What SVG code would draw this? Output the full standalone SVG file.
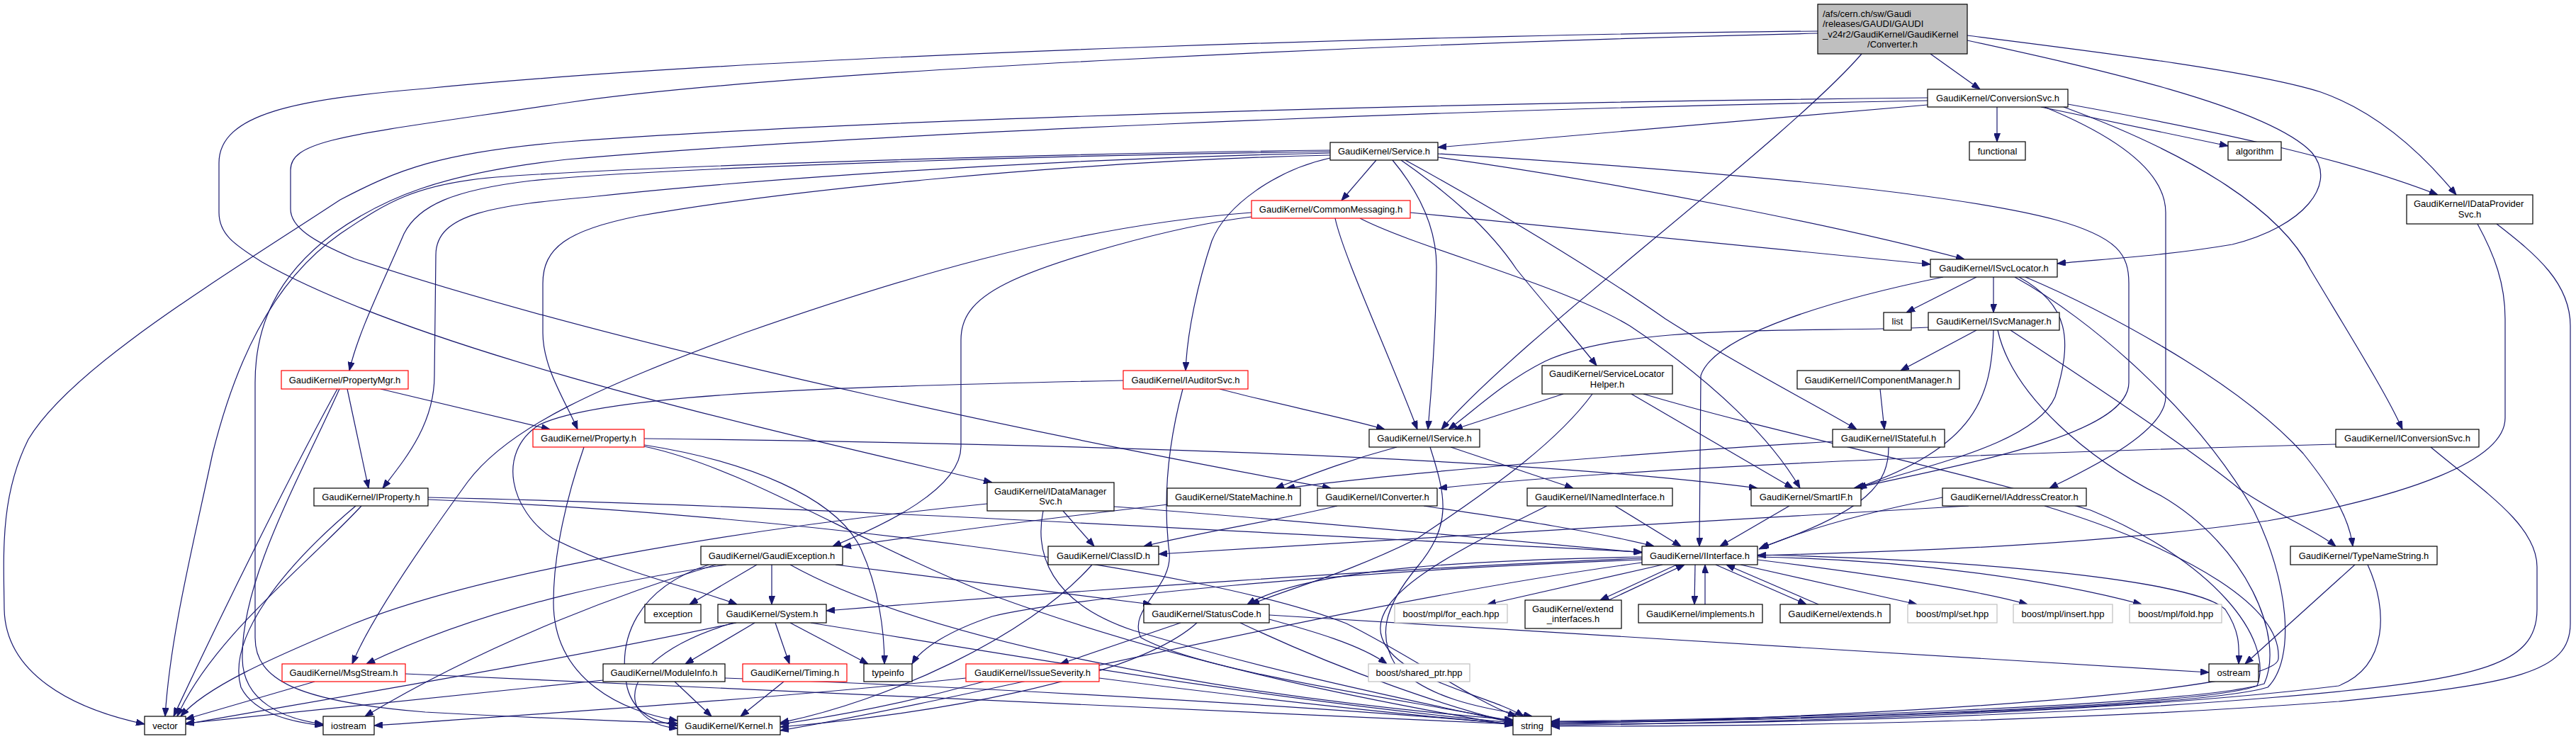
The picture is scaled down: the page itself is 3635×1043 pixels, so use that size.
<svg xmlns="http://www.w3.org/2000/svg" width="3635" height="1043" viewBox="0 0 3635 1043">
<defs>
<marker id="arr" viewBox="0 0 12 9" refX="12" refY="4.5" markerWidth="12" markerHeight="9" markerUnits="userSpaceOnUse" orient="auto"><path d="M0,0 L12,4.5 L0,9 Z" fill="#191970" stroke="#191970" stroke-width="1"/></marker>
</defs>
<style>
.e{fill:none;stroke:#191970;stroke-width:1.2;marker-end:url(#arr)}
.n rect{fill:#ffffff;stroke:#000000;stroke-width:1.2}
.r rect{fill:#ffffff;stroke:#ff0000;stroke-width:1.2}
.g rect{fill:#ffffff;stroke:#bfbfbf;stroke-width:1.2}
.root rect{fill:#bfbfbf;stroke:#000000;stroke-width:1.2}
text{font-family:"Liberation Sans",Arial,Helvetica,sans-serif;font-size:13px;fill:#000000}
.c{text-anchor:middle}
</style>
<rect x="0" y="0" width="3635" height="1043" fill="#ffffff"/>
<g id="edges">
<path class="e" d="M2724,76 L2794,126"/>
<path class="e" d="M2776,50 C2950,72 3180,100 3275,130 C3360,160 3425,225 3466,275"/>
<path class="e" d="M2776,57 C2950,95 3200,150 3262,215 C3300,260 3250,320 3150,345 C3050,362 2960,366 2903,372"/>
<path class="e" d="M2627,76 C2520,200 2140,480 2034,606"/>
<path class="e" d="M2565,44 C2100,48 1100,75 600,125 C420,140 309,160 309,230 L309,300 C309,330 330,345 370,370 C600,500 1100,610 1400,681"/>
<path class="e" d="M2565,47 C2000,60 1100,100 800,145 C500,190 410,195 410,240 L410,295 C410,320 440,340 500,365 C900,500 1600,640 1878,689"/>
<path class="e" d="M2720,148 L2029,208"/>
<path class="e" d="M2818,151 L2818,200"/>
<path class="e" d="M2880,151 L3144,206"/>
<path class="e" d="M2918,147 C3100,180 3300,220 3440,275"/>
<path class="e" d="M2912,151 C3100,220 3220,300 3260,380 C3320,480 3370,560 3390,606"/>
<path class="e" d="M2885,151 C2980,190 3056,240 3056,300 L3056,560 C3056,610 2950,660 2892,689"/>
<path class="e" d="M2720,138 C2000,145 1200,170 800,200 C620,215 560,240 480,282 C300,400 100,520 40,620 C0,700 5,780 6,860 C8,950 100,1000 204,1022"/>
<path class="e" d="M2720,142 C2000,155 1200,190 800,225 C620,245 540,280 470,330 C390,390 360,460 360,540 L360,900 C360,960 420,990 600,1005 C780,1015 900,1018 956,1021"/>
<path class="e" d="M1942,226 L1893,283"/>
<path class="e" d="M1965,226 C2010,280 2028,330 2027,380 C2026,470 2020,550 2015,606"/>
<path class="e" d="M1977,226 C2040,270 2100,320 2140,380 C2180,430 2225,480 2253,516"/>
<path class="e" d="M1983,226 C2100,290 2250,380 2350,450 C2460,520 2560,570 2620,606"/>
<path class="e" d="M2029,217 C2400,240 2750,270 2900,310 C2990,335 3004,360 3004,400 L3004,540 C3004,610 2800,650 2616,689"/>
<path class="e" d="M2029,222 C2300,260 2600,320 2772,366"/>
<path class="e" d="M1877,223 C1800,240 1730,290 1710,340 C1690,400 1675,470 1673,523"/>
<path class="e" d="M1877,212 C1500,216 900,235 700,250 C580,260 540,290 480,330 C380,400 330,520 300,640 C270,780 240,900 233,1011"/>
<path class="e" d="M1877,214 C1400,220 900,240 750,255 C640,268 590,290 570,330 C540,400 505,470 493,523"/>
<path class="e" d="M1877,216 C1400,226 1000,260 842,277 C700,290 615,300 615,360 L613,530 C613,600 570,650 540,689"/>
<path class="e" d="M1877,219 C1500,228 1100,270 900,305 C800,325 766,350 766,400 L766,470 C766,520 800,570 815,606"/>
<path class="e" d="M1884,308 C1895,360 1960,500 2000,606"/>
<path class="e" d="M1919,308 C2000,350 2200,400 2300,460 C2420,540 2500,620 2540,689"/>
<path class="e" d="M1990,300 C2200,322 2500,350 2724,373"/>
<path class="e" d="M1766,300 C1500,320 1250,400 1050,470 C850,545 720,600 660,680 C580,790 520,880 497,937"/>
<path class="e" d="M1766,306 C1650,320 1480,370 1420,400 C1370,425 1356,450 1356,480 L1356,630 C1356,690 1250,740 1175,771"/>
<path class="e" d="M3496,316 C3520,360 3535,400 3535,450 L3535,590 C3535,650 3400,700 3200,735 C2950,770 2700,778 2480,784"/>
<path class="e" d="M3523,316 C3580,360 3627,400 3627,460 L3627,880 C3627,950 3550,965 3300,990 C2900,1020 2500,1025 2189,1025"/>
<path class="e" d="M2789,391 L2690,441"/>
<path class="e" d="M2813,391 L2813,441"/>
<path class="e" d="M2742,391 C2600,420 2420,470 2400,530 L2398,771"/>
<path class="e" d="M2849,391 C2920,430 2925,480 2900,560 C2870,630 2700,660 2622,689"/>
<path class="e" d="M2858,391 C2950,430 3150,530 3250,640 C3290,690 3315,730 3320,771"/>
<path class="e" d="M2843,391 C2950,450 3100,580 3180,720 C3230,820 3240,930 3200,970 C3100,1000 2500,1018 2189,1020"/>
<path class="e" d="M2721,462 C2550,470 2300,455 2180,510 C2120,540 2080,580 2044,606"/>
<path class="e" d="M2789,466 L2682,523"/>
<path class="e" d="M2813,466 C2810,560 2790,630 2619,689"/>
<path class="e" d="M2837,466 C2950,540 3100,640 3160,690 C3220,730 3270,750 3296,771"/>
<path class="e" d="M2819,466 C2840,560 2950,650 3050,700 C3170,770 3225,900 3195,965 C3100,995 2500,1016 2189,1018"/>
<path class="e" d="M2653,549 L2659,606"/>
<path class="e" d="M2586,623 C2300,640 1950,670 1815,689"/>
<path class="e" d="M2665,631 C2665,680 2640,720 2484,773"/>
<path class="e" d="M2741,702 C2650,720 2550,745 2482,775"/>
<path class="e" d="M2778,714 C2400,735 2000,760 1635,782"/>
<path class="e" d="M2885,714 C3100,780 3220,860 3215,930 C3210,975 2700,1010 2189,1022"/>
<path class="e" d="M3296,627 C2800,640 2300,660 2030,689"/>
<path class="e" d="M3430,631 C3500,690 3580,740 3580,800 L3580,860 C3580,940 3500,960 3200,985 C2900,1010 2500,1022 2189,1022"/>
<path class="e" d="M1500,721 L1544,771"/>
<path class="e" d="M1472,721 C1460,780 1480,850 1600,890 C1800,950 2000,990 2135,1020"/>
<path class="e" d="M1393,711 C1100,740 700,800 500,880 C380,930 290,970 255,1011"/>
<path class="e" d="M1572,715 C1900,740 2150,765 2317,780"/>
<path class="e" d="M1648,712 C1450,735 1300,755 1189,772"/>
<path class="e" d="M2009,714 C2150,735 2250,750 2334,771"/>
<path class="e" d="M1887,714 C1800,735 1700,750 1614,771"/>
<path class="e" d="M2279,714 L2372,771"/>
<path class="e" d="M2183,714 C2050,780 1930,840 1950,900 C1970,960 2100,980 2150,1011"/>
<path class="e" d="M2525,714 L2427,771"/>
<path class="e" d="M1971,631 C1900,650 1850,670 1800,689"/>
<path class="e" d="M2047,631 L2220,689"/>
<path class="e" d="M2018,631 C2040,700 2050,740 2000,800 C1950,860 1945,900 1970,940 C2020,990 2100,1000 2162,1011"/>
<path class="e" d="M1721,549 C1800,570 1900,590 1954,606"/>
<path class="e" d="M1585,537 C1200,545 850,555 760,600 C700,640 720,720 780,760 C880,810 980,830 1040,853"/>
<path class="e" d="M1669,549 C1650,620 1640,700 1650,780 C1655,830 1590,860 1610,900 C1700,950 2000,990 2135,1018"/>
<path class="e" d="M2206,556 L2052,606"/>
<path class="e" d="M2302,556 L2530,689"/>
<path class="e" d="M2247,556 C2200,620 2120,680 2000,760 C1900,810 1820,830 1765,853"/>
<path class="e" d="M2319,556 C2500,610 2750,660 2950,720 C3120,790 3210,900 3185,968 C3100,998 2500,1018 2189,1019"/>
<path class="e" d="M537,549 L776,606"/>
<path class="e" d="M490,549 L520,689"/>
<path class="e" d="M476,549 C420,650 320,850 245,1011"/>
<path class="e" d="M479,549 C420,680 340,820 342,930 C343,990 400,1015 456,1022"/>
<path class="e" d="M604,702 C1200,715 1900,760 2317,779"/>
<path class="e" d="M604,705 C1100,725 1700,800 1900,880 C2000,930 2080,990 2140,1011"/>
<path class="e" d="M510,714 C430,800 300,900 250,1011"/>
<path class="e" d="M502,714 C400,800 320,900 340,970 C360,1010 420,1020 456,1024"/>
<path class="e" d="M909,619 C1400,625 2100,640 2480,689"/>
<path class="e" d="M909,628 C1050,650 1180,700 1215,775 C1240,830 1248,890 1248,937"/>
<path class="e" d="M909,630 C1050,660 1200,760 1400,840 C1700,950 2000,1000 2135,1024"/>
<path class="e" d="M824,631 C800,700 781,780 781,850 C781,960 880,1005 956,1017"/>
<path class="e" d="M1068,797 L973,853"/>
<path class="e" d="M1089,797 L1089,853"/>
<path class="e" d="M1179,797 L1625,853"/>
<path class="e" d="M1115,797 C1300,900 1700,980 2135,1016"/>
<path class="e" d="M1025,797 C900,815 700,850 517,937"/>
<path class="e" d="M1010,797 C900,830 700,900 515,1011"/>
<path class="e" d="M1000,797 C900,830 870,900 885,970 C895,1010 930,1020 956,1024"/>
<path class="e" d="M1541,797 C1450,900 1250,990 1101,1020"/>
<path class="e" d="M1065,879 L967,937"/>
<path class="e" d="M1094,879 L1114,937"/>
<path class="e" d="M1115,879 L1225,937"/>
<path class="e" d="M1144,879 C1400,920 1800,990 2135,1020"/>
<path class="e" d="M1039,879 C800,930 500,980 262,1022"/>
<path class="e" d="M1035,879 C930,910 880,960 900,1000 C915,1020 935,1026 956,1028"/>
<path class="e" d="M1666,879 L1496,937"/>
<path class="e" d="M1689,879 C1600,960 1300,1010 1101,1026"/>
<path class="e" d="M1791,874 C1850,890 1920,910 1957,937"/>
<path class="e" d="M1791,868 C2300,900 2800,930 3117,949"/>
<path class="e" d="M1750,879 C1900,950 2050,1000 2135,1020"/>
<path class="e" d="M1388,962 C1250,1000 1150,1015 1101,1022"/>
<path class="e" d="M1551,957 C1800,990 2000,1010 2135,1022"/>
<path class="e" d="M1363,957 C1100,985 800,1005 528,1024"/>
<path class="e" d="M952,962 L1004,1011"/>
<path class="e" d="M1023,957 C1400,970 1900,1000 2135,1022"/>
<path class="e" d="M851,960 C600,985 400,1005 262,1021"/>
<path class="e" d="M1106,962 L1045,1011"/>
<path class="e" d="M444,962 L262,1015"/>
<path class="e" d="M572,951 C1200,980 1800,1005 2135,1022"/>
<path class="e" d="M2346,797 L2099,853"/>
<path class="e" d="M2366,797 L2258,847"/>
<path class="e" d="M2270,847 L2377,797"/>
<path class="e" d="M2392,797 L2391,853"/>
<path class="e" d="M2406,853 L2406,797"/>
<path class="e" d="M2421,797 L2549,853"/>
<path class="e" d="M2566,853 L2436,797"/>
<path class="e" d="M2456,797 L2705,853"/>
<path class="e" d="M2480,790 C2600,805 2780,830 2861,853"/>
<path class="e" d="M2480,786 C2700,790 2900,820 3022,853"/>
<path class="e" d="M2480,783 C2800,790 3100,820 3140,860 C3160,890 3160,910 3159,937"/>
<path class="e" d="M2317,788 C2000,800 1500,835 1166,862"/>
<path class="e" d="M2317,786 C2100,790 1850,800 1760,853"/>
<path class="e" d="M2317,790 C1900,805 1500,845 1400,870 C1340,890 1300,915 1287,937"/>
<path class="e" d="M2317,794 C1900,850 1400,980 1101,1031"/>
<path class="e" d="M3323,797 L3168,937"/>
<path class="e" d="M3341,797 C3370,860 3370,940 3300,968 C3000,1005 2500,1020 2189,1024"/>
</g>
<g id="node-root" class="root"><rect x="2565" y="6" width="211" height="70"/><text x="2572" y="23.9">/afs/cern.ch/sw/Gaudi</text><text x="2572" y="38.4">/releases/GAUDI/GAUDI</text><text x="2572" y="52.9">_v24r2/GaudiKernel/GaudiKernel</text><text class="c" x="2670.5" y="67.4">/Converter.h</text></g>
<g id="node-ConversionSvc" class="n"><rect x="2720" y="126" width="198" height="25"/><text class="c" x="2819" y="143">GaudiKernel/ConversionSvc.h</text></g>
<g id="node-functional" class="n"><rect x="2779" y="200" width="79" height="26"/><text class="c" x="2818.5" y="217.5">functional</text></g>
<g id="node-algorithm" class="n"><rect x="3144" y="200" width="75" height="26"/><text class="c" x="3181.5" y="217.5">algorithm</text></g>
<g id="node-IDataProviderSvc" class="n"><rect x="3396" y="275" width="178" height="41"/><text x="3406" y="291.9">GaudiKernel/IDataProvider</text><text class="c" x="3485" y="306.9">Svc.h</text></g>
<g id="node-Service" class="n"><rect x="1877" y="201" width="152" height="25"/><text class="c" x="1953" y="218">GaudiKernel/Service.h</text></g>
<g id="node-CommonMessaging" class="r"><rect x="1766" y="283" width="224" height="25"/><text class="c" x="1878" y="300">GaudiKernel/CommonMessaging.h</text></g>
<g id="node-ISvcLocator" class="n"><rect x="2724" y="366" width="179" height="25"/><text class="c" x="2813.5" y="383">GaudiKernel/ISvcLocator.h</text></g>
<g id="node-list" class="n"><rect x="2658" y="441" width="39" height="25"/><text class="c" x="2677.5" y="458">list</text></g>
<g id="node-ISvcManager" class="n"><rect x="2721" y="441" width="185" height="25"/><text class="c" x="2813.5" y="458">GaudiKernel/ISvcManager.h</text></g>
<g id="node-PropertyMgr" class="r"><rect x="397" y="523" width="179" height="26"/><text class="c" x="486.5" y="540.5">GaudiKernel/PropertyMgr.h</text></g>
<g id="node-IAuditorSvc" class="r"><rect x="1585" y="523" width="176" height="26"/><text class="c" x="1673" y="540.5">GaudiKernel/IAuditorSvc.h</text></g>
<g id="node-ServiceLocatorHelper" class="n"><rect x="2176" y="516" width="184" height="40"/><text x="2186" y="532.3">GaudiKernel/ServiceLocator</text><text class="c" x="2268" y="546.9">Helper.h</text></g>
<g id="node-IComponentManager" class="n"><rect x="2536" y="523" width="229" height="26"/><text class="c" x="2650.5" y="540.5">GaudiKernel/IComponentManager.h</text></g>
<g id="node-Property" class="r"><rect x="752" y="606" width="157" height="25"/><text class="c" x="830.5" y="623">GaudiKernel/Property.h</text></g>
<g id="node-IService" class="n"><rect x="1932" y="606" width="156" height="25"/><text class="c" x="2010" y="623">GaudiKernel/IService.h</text></g>
<g id="node-IStateful" class="n"><rect x="2586" y="606" width="158" height="25"/><text class="c" x="2665" y="623">GaudiKernel/IStateful.h</text></g>
<g id="node-IConversionSvc" class="n"><rect x="3296" y="606" width="202" height="25"/><text class="c" x="3397" y="623">GaudiKernel/IConversionSvc.h</text></g>
<g id="node-IProperty" class="n"><rect x="443" y="689" width="161" height="25"/><text class="c" x="523.5" y="706">GaudiKernel/IProperty.h</text></g>
<g id="node-IDataManagerSvc" class="n"><rect x="1393" y="681" width="179" height="40"/><text x="1403" y="697.5">GaudiKernel/IDataManager</text><text class="c" x="1482.5" y="712">Svc.h</text></g>
<g id="node-StateMachine" class="n"><rect x="1647" y="689" width="188" height="25"/><text class="c" x="1741" y="706">GaudiKernel/StateMachine.h</text></g>
<g id="node-IConverter" class="n"><rect x="1859" y="689" width="169" height="25"/><text class="c" x="1943.5" y="706">GaudiKernel/IConverter.h</text></g>
<g id="node-INamedInterface" class="n"><rect x="2155" y="689" width="205" height="25"/><text class="c" x="2257.5" y="706">GaudiKernel/INamedInterface.h</text></g>
<g id="node-SmartIF" class="n"><rect x="2471" y="689" width="155" height="25"/><text class="c" x="2548.5" y="706">GaudiKernel/SmartIF.h</text></g>
<g id="node-IAddressCreator" class="n"><rect x="2741" y="689" width="203" height="25"/><text class="c" x="2842.5" y="706">GaudiKernel/IAddressCreator.h</text></g>
<g id="node-GaudiException" class="n"><rect x="989" y="771" width="200" height="26"/><text class="c" x="1089" y="788.5">GaudiKernel/GaudiException.h</text></g>
<g id="node-ClassID" class="n"><rect x="1479" y="771" width="156" height="26"/><text class="c" x="1557" y="788.5">GaudiKernel/ClassID.h</text></g>
<g id="node-IInterface" class="n"><rect x="2317" y="771" width="163" height="26"/><text class="c" x="2398.5" y="788.5">GaudiKernel/IInterface.h</text></g>
<g id="node-TypeNameString" class="n"><rect x="3232" y="771" width="207" height="26"/><text class="c" x="3335.5" y="788.5">GaudiKernel/TypeNameString.h</text></g>
<g id="node-exception" class="n"><rect x="910" y="853" width="79" height="26"/><text class="c" x="949.5" y="870.5">exception</text></g>
<g id="node-System" class="n"><rect x="1013" y="853" width="153" height="26"/><text class="c" x="1089.5" y="870.5">GaudiKernel/System.h</text></g>
<g id="node-StatusCode" class="n"><rect x="1614" y="853" width="177" height="26"/><text class="c" x="1702.5" y="870.5">GaudiKernel/StatusCode.h</text></g>
<g id="node-for_each" class="g"><rect x="1968" y="853" width="159" height="26"/><text class="c" x="2047.5" y="870.5">boost/mpl/for_each.hpp</text></g>
<g id="node-extend_interfaces" class="n"><rect x="2152" y="847" width="136" height="40"/><text x="2162" y="863.5">GaudiKernel/extend</text><text class="c" x="2220" y="878">_interfaces.h</text></g>
<g id="node-implements" class="n"><rect x="2312" y="853" width="175" height="26"/><text class="c" x="2399.5" y="870.5">GaudiKernel/implements.h</text></g>
<g id="node-extends" class="n"><rect x="2512" y="853" width="155" height="26"/><text class="c" x="2589.5" y="870.5">GaudiKernel/extends.h</text></g>
<g id="node-set" class="g"><rect x="2692" y="853" width="126" height="26"/><text class="c" x="2755" y="870.5">boost/mpl/set.hpp</text></g>
<g id="node-insert" class="g"><rect x="2841" y="853" width="140" height="26"/><text class="c" x="2911" y="870.5">boost/mpl/insert.hpp</text></g>
<g id="node-fold" class="g"><rect x="3005" y="853" width="130" height="26"/><text class="c" x="3070" y="870.5">boost/mpl/fold.hpp</text></g>
<g id="node-MsgStream" class="r"><rect x="398" y="937" width="174" height="25"/><text class="c" x="485" y="954">GaudiKernel/MsgStream.h</text></g>
<g id="node-ModuleInfo" class="n"><rect x="851" y="937" width="172" height="25"/><text class="c" x="937" y="954">GaudiKernel/ModuleInfo.h</text></g>
<g id="node-Timing" class="r"><rect x="1048" y="937" width="147" height="25"/><text class="c" x="1121.5" y="954">GaudiKernel/Timing.h</text></g>
<g id="node-typeinfo" class="n"><rect x="1219" y="937" width="68" height="25"/><text class="c" x="1253" y="954">typeinfo</text></g>
<g id="node-IssueSeverity" class="r"><rect x="1363" y="937" width="188" height="25"/><text class="c" x="1457" y="954">GaudiKernel/IssueSeverity.h</text></g>
<g id="node-shared_ptr" class="g"><rect x="1931" y="937" width="143" height="25"/><text class="c" x="2002.5" y="954">boost/shared_ptr.hpp</text></g>
<g id="node-ostream" class="n"><rect x="3117" y="937" width="70" height="25"/><text class="c" x="3152" y="954">ostream</text></g>
<g id="node-vector" class="n"><rect x="204" y="1011" width="58" height="26"/><text class="c" x="233" y="1028.5">vector</text></g>
<g id="node-iostream" class="n"><rect x="456" y="1011" width="72" height="26"/><text class="c" x="492" y="1028.5">iostream</text></g>
<g id="node-Kernel" class="n"><rect x="956" y="1011" width="145" height="26"/><text class="c" x="1028.5" y="1028.5">GaudiKernel/Kernel.h</text></g>
<g id="node-string" class="n"><rect x="2135" y="1011" width="54" height="26"/><text class="c" x="2162" y="1028.5">string</text></g>
</svg>
